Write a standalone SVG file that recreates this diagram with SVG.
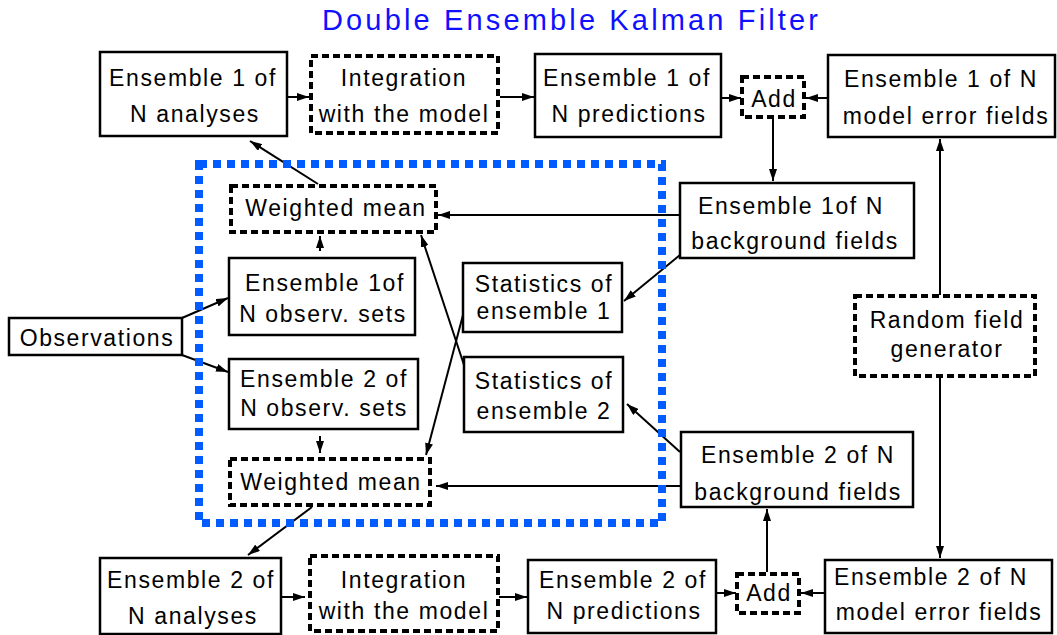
<svg xmlns="http://www.w3.org/2000/svg" width="1057" height="635" viewBox="0 0 1057 635">
  <style>
    .box { fill: #fff; stroke: #000; stroke-width: 2.5; }
    .dbox { fill: #fff; stroke: #000; stroke-width: 4; stroke-dasharray: 7 4; }
    .t { font-family: "Liberation Sans", Arial, Helvetica, sans-serif; font-size: 23px; letter-spacing: 1.6px; text-anchor: middle; fill: #000; }
    .title { font-family: "Liberation Sans", Arial, Helvetica, sans-serif; font-size: 29px; fill: #1010ff; }
    .edge { fill: none; stroke: #000; stroke-width: 2; marker-end: url(#ah); }
    .frame { fill: none; stroke: #005cff; stroke-width: 8; stroke-dasharray: 8 6; }
  </style>
  <defs>
    <marker id="ah" viewBox="0 0 12 8" refX="12" refY="4" markerWidth="12" markerHeight="8" markerUnits="userSpaceOnUse" orient="auto">
      <path d="M0,0 L12,4 L0,8 z" fill="#000"/>
    </marker>
  </defs>

  <rect width="1057" height="635" fill="#fff"/>

  <text class="title" x="322" y="30" textLength="496" lengthAdjust="spacing">Double Ensemble Kalman Filter</text>

  <!-- connectors -->
  <g id="connectors">
    <path class="edge" d="M288,97 L309,97"/>
    <path class="edge" d="M500,97 L534,97"/>
    <path class="edge" d="M722,98 L741,98"/>
    <path class="edge" d="M828,98 L806,98"/>
    <path class="edge" d="M773,118 L773,181"/>
    <path class="edge" d="M679,215 L438,215"/>
    <path class="edge" d="M680,255 L624,301"/>
    <path class="edge" d="M318,184 L250,141"/>
    <path class="edge" d="M320,251 L320,236"/>
    <path class="edge" d="M182,318 L228,298"/>
    <path class="edge" d="M182,355 L228,372"/>
    <path class="edge" d="M320,436 L320,453"/>
    <path class="edge" d="M465,368 L421,235"/>
    <path class="edge" d="M463,315 L426,455"/>
    <path class="edge" d="M680,452 L627,404"/>
    <path class="edge" d="M680,486 L436,486"/>
    <path class="edge" d="M940,295 L940,139"/>
    <path class="edge" d="M940,377 L940,558"/>
    <path class="edge" d="M767,572 L767,509"/>
    <path class="edge" d="M825,593 L801,593"/>
    <path class="edge" d="M716,593 L736,593"/>
    <path class="edge" d="M499,597 L527,597"/>
    <path class="edge" d="M281,597 L305,597"/>
    <path class="edge" d="M312,507 L248,555"/>
  </g>

  <!-- analysis step frame -->
  <rect id="analysis-frame" class="frame" x="199" y="164" width="463" height="359"/>

  <!-- ensemble 1 chain -->
  <g id="analyses1">
    <rect class="box" x="100" y="52" width="187" height="84"/>
    <text class="t" x="193" y="86">Ensemble 1 of</text>
    <text class="t" x="195" y="122">N analyses</text>
  </g>
  <g id="integration1">
    <rect class="dbox" x="311" y="56" width="187" height="77"/>
    <text class="t" x="404" y="86">Integration</text>
    <text class="t" x="404" y="122">with the model</text>
  </g>
  <g id="predictions1">
    <rect class="box" x="535" y="54" width="186" height="83"/>
    <text class="t" x="627" y="86">Ensemble 1 of</text>
    <text class="t" x="629" y="122">N predictions</text>
  </g>
  <g id="add1">
    <rect class="dbox" x="742" y="77" width="62" height="40"/>
    <text class="t" x="774" y="107">Add</text>
  </g>
  <g id="errors1">
    <rect class="box" x="828" y="55" width="227" height="82"/>
    <text class="t" x="941" y="87">Ensemble 1 of N</text>
    <text class="t" x="946" y="124">model error fields</text>
  </g>
  <g id="background1">
    <rect class="box" x="680" y="183" width="234" height="75"/>
    <text class="t" x="791" y="214">Ensemble 1of N</text>
    <text class="t" x="795" y="249">background fields</text>
  </g>

  <!-- analysis step -->
  <g id="wmean1">
    <rect class="dbox" x="231" y="186" width="205" height="46"/>
    <text class="t" x="336" y="216">Weighted mean</text>
  </g>
  <g id="obs1">
    <rect class="box" x="229" y="258" width="186" height="77"/>
    <text class="t" x="325" y="291">Ensemble 1of</text>
    <text class="t" x="323" y="322">N observ. sets</text>
  </g>
  <g id="stats1">
    <rect class="box" x="463" y="263" width="159" height="69"/>
    <text class="t" x="544" y="292">Statistics of</text>
    <text class="t" x="544" y="319">ensemble 1</text>
  </g>
  <g id="observations">
    <rect class="box" x="9" y="318" width="173" height="37"/>
    <text class="t" x="97" y="346">Observations</text>
  </g>
  <g id="obs2">
    <rect class="box" x="229" y="359" width="189" height="70"/>
    <text class="t" x="324" y="387">Ensemble 2 of</text>
    <text class="t" x="324" y="416">N observ. sets</text>
  </g>
  <g id="stats2">
    <rect class="box" x="464" y="357" width="159" height="75"/>
    <text class="t" x="544" y="389">Statistics of</text>
    <text class="t" x="544" y="419">ensemble 2</text>
  </g>
  <g id="wmean2">
    <rect class="dbox" x="230" y="459" width="200" height="46"/>
    <text class="t" x="331" y="490">Weighted mean</text>
  </g>

  <!-- random field generator -->
  <g id="random">
    <rect class="dbox" x="855" y="296" width="180" height="80"/>
    <text class="t" x="947" y="328">Random field</text>
    <text class="t" x="947" y="357">generator</text>
  </g>

  <!-- ensemble 2 chain -->
  <g id="background2">
    <rect class="box" x="681" y="432" width="232" height="75"/>
    <text class="t" x="798" y="463">Ensemble 2 of N</text>
    <text class="t" x="798" y="500">background fields</text>
  </g>
  <g id="analyses2">
    <rect class="box" x="100" y="558" width="181" height="76"/>
    <text class="t" x="191" y="588">Ensemble 2 of</text>
    <text class="t" x="193" y="624">N analyses</text>
  </g>
  <g id="integration2">
    <rect class="dbox" x="310" y="556" width="188" height="75"/>
    <text class="t" x="404" y="588">Integration</text>
    <text class="t" x="404" y="619">with the model</text>
  </g>
  <g id="predictions2">
    <rect class="box" x="528" y="560" width="188" height="73"/>
    <text class="t" x="623" y="588">Ensemble 2 of</text>
    <text class="t" x="624" y="619">N predictions</text>
  </g>
  <g id="add2">
    <rect class="dbox" x="737" y="574" width="62" height="39"/>
    <text class="t" x="769" y="601">Add</text>
  </g>
  <g id="errors2">
    <rect class="box" x="825" y="560" width="227" height="73"/>
    <text class="t" x="931" y="585">Ensemble 2 of N</text>
    <text class="t" x="939" y="620">model error fields</text>
  </g>
</svg>
